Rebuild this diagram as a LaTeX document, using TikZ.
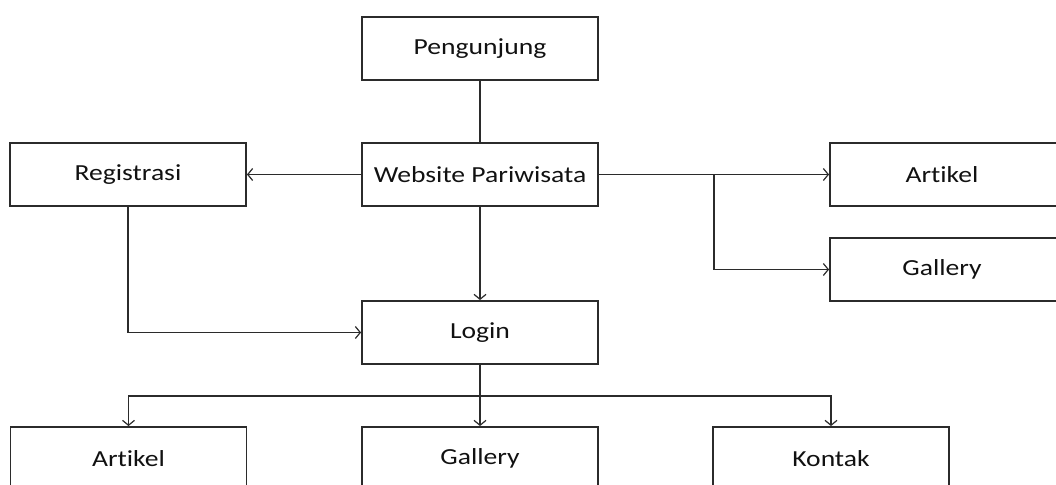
\documentclass[tikz,border=0pt]{standalone}
\usepackage{fontspec}
\setmainfont[FakeStretch=1.2,RawFeature=-liga]{Carlito}
\usetikzlibrary{arrows.meta}
\definecolor{linegray}{HTML}{2B2B2B}
\definecolor{txt}{HTML}{111111}
\begin{document}
\begin{tikzpicture}[x=1pt,y=-1pt,
  lbl/.style={text=txt,font=\fontsize{23}{27}\selectfont},
  box/.style={lbl,draw=linegray,line width=1.8pt,minimum width=236pt,minimum height=63pt,
    inner sep=0pt},
  conn/.style={draw=linegray,line width=1.4pt},
  arr/.style={conn,-{Straight Barb[length=5pt,width=12pt,line width=1.2pt]}}]
\useasboundingbox (0,0) rectangle (1056,484);
\clip (0,0) rectangle (1056,484);
\node[box] (peng) at (480,48.5) {Pengunjung};
\node[box] (web) at (480,174.5) {Website Pariwisata};
\node[box] (reg) at (128,174.5) {Registrasi};
\node[box] (artr) at (948,174.5) {};
\node[lbl] (artrt) at (942,174.5) {Artikel};
\node[box] (galr) at (948,269.5) {};
\node[lbl] (galrt) at (942,269.5) {Gallery};
\node[box] (login) at (480,332.5) {Login};
\node[box] (artb) at (128.5,458.5) {Artikel};
\node[box] (galb) at (480,458.5) {Gallery};
\node[box] (kon) at (831,458.5) {Kontak};
\coordinate (br) at (714,174.5);
\coordinate (bb) at (480,396);
\draw[conn] (peng) -- (web);
\draw[arr] (web) -- (reg);
\draw[arr] (web) -- (artr);
\draw[arr] (br) |- (galr);
\draw[arr] (web) -- (login);
\draw[arr] (reg) |- (login);
\draw[arr] (login) -- (galb);
\draw[arr] (bb) -| (artb);
\draw[arr] (bb) -| (kon);
\end{tikzpicture}
\end{document}
